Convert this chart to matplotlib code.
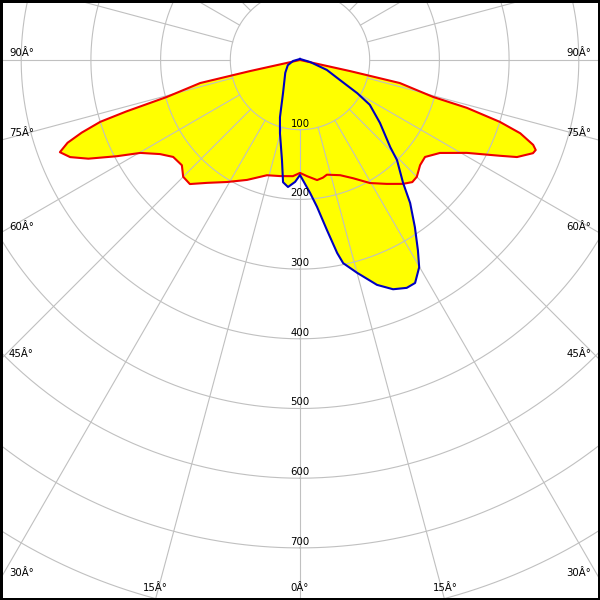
import matplotlib
matplotlib.use("Agg")
import matplotlib.pyplot as plt
import numpy as np
from matplotlib.patches import Rectangle

# C0-C180 plane (red outline), angle in degrees from nadir, intensity in cd
red_angles = [-80, -77.5, -77, -74.5, -73.5, -72.8, -71.6, -70.4, -69, -67.1, -65, -62.3,
              -59.8, -56.1, -52.6, -48.3, -45, -41.6, -37.1, -30.9, -23.8, -16, -9.8, -3.5,
              0, 3.5, 8.1, 11, 13.2, 19.2, 24.2, 29.6, 35, 39.7, 42.6, 45, 48.8, 52.2,
              56.4, 60.9, 64.4, 65.9, 68.2, 69.1, 70, 71.6, 72.8, 74, 74.5, 77, 77.5, 80]
red_values = [0, 74, 147, 198, 260, 300, 330, 354, 369, 358, 335, 297,
              265, 242, 229, 227, 237, 238, 221, 204, 188, 172, 169, 167,
              162, 167, 174, 172, 169, 175, 186, 203, 217, 231, 238, 237, 229, 227,
              241, 274, 318, 341, 360, 362, 356, 333, 300, 249, 198, 147, 74, 0]

# C90-C270 plane (blue outline)
blue_angles = [180, -82, -67, -49, -27.3, -19.3, -15.3, -10.2, -7.9, -5.4, -2.3, 0,
               4.3, 6.6, 9, 10.9, 12, 15, 18.9, 22.1, 25.1, 27.3, 29.9, 31.8, 34.5,
               37.6, 40, 44.1, 46, 51.8, 57.3, 59.9, 63.4, 69.7, 78.7, 180]
blue_values = [1.5, 10, 19, 28, 53, 87, 109, 146, 177, 183, 175, 165,
               191, 212, 247, 282, 298, 316, 341, 355, 361, 360, 343, 321, 291,
               259, 230, 200, 180, 146, 119, 95, 64, 41, 15, 1.5]

ring_values = [100, 200, 300, 400, 500, 600, 700, 800]
ring_labels = ["100", "200", "300", "400", "500", "600", "700"]
spoke_angles = list(range(0, 360, 15))

# pixel geometry of the reference (600x600, pole at x=300, y=60 from top)
px_per_cd = 0.697
rmax = 900
R = rmax * px_per_cd

fig = plt.figure(figsize=(6, 6), dpi=100)
ax = fig.add_axes([(300 - R) / 600, (540 - R) / 600, 2 * R / 600, 2 * R / 600],
                  projection="polar")
ax.set_theta_zero_location("S")
ax.set_rlim(0, rmax)
ax.set_xticks([])
ax.set_yticks([])
ax.grid(False)
ax.spines["polar"].set_visible(False)

grid_col = "#c0c0c0"
t = np.linspace(0, 2 * np.pi, 720)
for r in ring_values:
    ax.plot(t, np.full_like(t, r), color=grid_col, lw=0.8, zorder=2)
for a in spoke_angles:
    ax.plot([np.radians(a)] * 2, [100, rmax], color=grid_col, lw=0.8, zorder=2)

rt = np.radians(red_angles)
bt = np.radians(blue_angles)
ax.fill(rt, red_values, color="#ffff00", lw=0, zorder=1)
ax.fill(bt, blue_values, color="#ffff00", lw=0, zorder=1)
ax.plot(rt, red_values, color="#ee0000", lw=1.5, zorder=3)
ax.plot(bt, blue_values, color="#0000c0", lw=1.5, zorder=4)

for r, lab in zip(ring_values, ring_labels):
    ax.text(0, r - 4.5, lab, ha="center", va="baseline", fontsize=7.3, zorder=5)

# angle labels along the frame
def ftext(x, y, s, ha):
    fig.text(x / 600, 1 - y / 600, s, ha=ha, va="center", fontsize=7.3)

for s, y in [("90Â°", 53), ("75Â°", 133), ("60Â°", 227), ("45Â°", 354), ("30Â°", 573)]:
    ftext(9, y, s, "left")
    ftext(591, y, s, "right")
ftext(155, 588, "15Â°", "center")
ftext(445, 588, "15Â°", "center")
ftext(300, 588, "0Â°", "center")

fig.add_artist(Rectangle((0, 0), 1, 1, transform=fig.transFigure, fill=False,
                         ec="black", lw=3.6))

fig.savefig("out.png", dpi=100, facecolor="white")
